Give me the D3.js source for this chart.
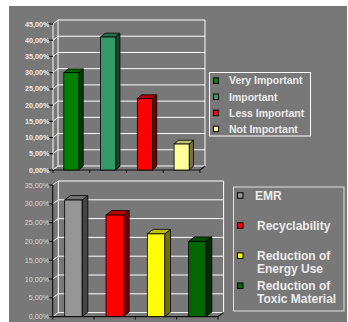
<!DOCTYPE html>
<html>
<head>
<meta charset="utf-8">
<script src="https://cdn.jsdelivr.net/npm/d3@7"></script>
<style>
  html, body { margin: 0; padding: 0; background: #ffffff; }
  svg { display: block; }
  text { font-family: "Liberation Sans", Arial, sans-serif; }
</style>
</head>
<body>
<svg id="chart" width="348" height="322"></svg>
<script>
// ---- Data ----
const importanceCategories = ["Very Important", "Important", "Less Important", "Not Important"];
const importanceValues = [0.30, 0.41, 0.22, 0.08];
const importanceColors = ["#008000", "#339966", "#ff0000", "#ffff99"];
const importanceTicks = [0, 0.05, 0.10, 0.15, 0.20, 0.25, 0.30, 0.35, 0.40, 0.45];

const criteriaCategories = ["EMR", "Recyclability", "Reduction of Energy Use", "Reduction of Toxic Material"];
const criteriaLegendLines = [["EMR"], ["Recyclability"], ["Reduction of", "Energy Use"], ["Reduction of", "Toxic Material"]];
const criteriaValues = [0.31, 0.27, 0.22, 0.20];
const criteriaColors = ["#969696", "#ff0000", "#ffff00", "#006600"];
const criteriaTicks = [0, 0.05, 0.10, 0.15, 0.20, 0.25, 0.30, 0.35];

// Comma decimal percentages, e.g. "45,00%"
const locale = d3.formatLocale({ decimal: ",", thousands: ".", grouping: [3], currency: ["", " €"] });
const pct = locale.format(".2%");

const svg = d3.select("#chart");

// Grey page background
svg.append("rect").attr("x", 9).attr("y", 6).attr("width", 338).attr("height", 316).attr("fill", "#787878");

function shade(c, k) {
  const col = d3.rgb(c);
  return d3.rgb(col.r * k, col.g * k, col.b * k).formatHex();
}

// Draws a 3D column chart: back wall with gridlines, left-wall diagonals, floor and prism bars
function drawChart(cfg) {
  const g = svg.append("g");
  const { x0, x1, yBase, yTop, maxV, wallDx, wallDy, barDx, barDy } = cfg;

  const y = d3.scaleLinear().domain([0, maxV]).range([yBase, yTop]);
  const x = d3.scaleBand().domain(cfg.categories).range([x0, x1])
    .paddingInner(cfg.padInner).paddingOuter(cfg.padInner / 2);

  // back wall gridlines
  g.selectAll("line.grid").data(cfg.ticks).join("line")
    .attr("x1", x0 + wallDx).attr("x2", x1 + wallDx)
    .attr("y1", d => y(d) - wallDy).attr("y2", d => y(d) - wallDy)
    .attr("stroke", "#ffffff").attr("stroke-width", 1);
  // left wall diagonals
  g.selectAll("line.diag").data(cfg.ticks).join("line")
    .attr("x1", x0).attr("x2", x0 + wallDx)
    .attr("y1", d => y(d)).attr("y2", d => y(d) - wallDy)
    .attr("stroke", "#ffffff").attr("stroke-width", 1);
  // back wall edges
  g.append("line").attr("x1", x0 + wallDx).attr("x2", x0 + wallDx)
    .attr("y1", y(maxV) - wallDy).attr("y2", yBase - wallDy).attr("stroke", "#ffffff");
  g.append("line").attr("x1", x1 + wallDx).attr("x2", x1 + wallDx)
    .attr("y1", y(maxV) - wallDy).attr("y2", yBase - wallDy).attr("stroke", "#ffffff");

  // floor front edge and right diagonal
  g.append("line").attr("x1", x0).attr("x2", x1).attr("y1", yBase).attr("y2", yBase)
    .attr("stroke", "#111111").attr("stroke-width", 1.2);
  g.append("line").attr("x1", x1).attr("x2", x1 + wallDx).attr("y1", yBase).attr("y2", yBase - wallDy)
    .attr("stroke", "#111111").attr("stroke-width", 1.2);

  // category boundary ticks below floor
  const bounds = cfg.categories.map(c => x(c) - x.step() * x.paddingInner() / 2).concat([x1]);
  g.selectAll("line.xtick").data(bounds).join("line")
    .attr("x1", d => d).attr("x2", d => d).attr("y1", yBase).attr("y2", yBase + 3)
    .attr("stroke", "#111111");

  // value axis
  g.append("line").attr("x1", x0).attr("x2", x0).attr("y1", y(maxV)).attr("y2", yBase)
    .attr("stroke", cfg.axisColor).attr("stroke-width", 1.2);
  g.selectAll("line.ytick").data(cfg.ticks).join("line")
    .attr("x1", x0 - 4).attr("x2", x0).attr("y1", d => y(d)).attr("y2", d => y(d))
    .attr("stroke", "#111111").attr("stroke-width", 1.2);
  g.selectAll("text.ylab").data(cfg.ticks).join("text")
    .attr("x", x0 - 3.5).attr("y", d => y(d)).attr("dy", "0.35em")
    .attr("text-anchor", "end").attr("font-size", 7.2)
    .attr("font-weight", cfg.labelWeight).attr("fill", cfg.labelColor)
    .text(d => pct(d));

  // bars
  const bw = x.bandwidth();
  const bars = g.selectAll("g.bar").data(cfg.values).join("g");
  bars.append("polygon") // side
    .attr("points", (d, i) => {
      const bx = x(cfg.categories[i]) + bw, ty = y(d);
      return [[bx, ty], [bx + barDx, ty - barDy], [bx + barDx, yBase - barDy], [bx, yBase]].join(" ");
    })
    .attr("fill", (d, i) => shade(cfg.colors[i], 0.45)).attr("stroke", "#000").attr("stroke-width", 0.8);
  bars.append("polygon") // top
    .attr("points", (d, i) => {
      const bx = x(cfg.categories[i]), ty = y(d);
      return [[bx, ty], [bx + barDx, ty - barDy], [bx + bw + barDx, ty - barDy], [bx + bw, ty]].join(" ");
    })
    .attr("fill", (d, i) => shade(cfg.colors[i], 0.75)).attr("stroke", "#000").attr("stroke-width", 0.8);
  bars.append("rect") // front
    .attr("x", (d, i) => x(cfg.categories[i])).attr("y", d => y(d))
    .attr("width", bw).attr("height", d => yBase - y(d))
    .attr("fill", (d, i) => cfg.colors[i]).attr("stroke", "#000").attr("stroke-width", 0.8);
}

drawChart({
  categories: importanceCategories, values: importanceValues, colors: importanceColors, ticks: importanceTicks,
  x0: 53, x1: 200, yBase: 170, yTop: 24, maxV: 0.45,
  wallDx: 5, wallDy: 4, barDx: 4.3, barDy: 3.8, padInner: 0.59,
  axisColor: "#e8e8e8", labelColor: "#eeeeee", labelWeight: "bold"
});

drawChart({
  categories: criteriaCategories, values: criteriaValues, colors: criteriaColors, ticks: criteriaTicks,
  x0: 52.7, x1: 218, yBase: 316.6, yTop: 185, maxV: 0.35,
  wallDx: 5.6, wallDy: 4, barDx: 5.8, barDy: 4.5, padInner: 0.58,
  axisColor: "#111111", labelColor: "#d8d8d8", labelWeight: "normal"
});

// ---- Legends ----
const leg1 = svg.append("g");
leg1.append("rect").attr("x", 209.5).attr("y", 72.5).attr("width", 101).attr("height", 63.5)
  .attr("fill", "none").attr("stroke", "#ffffff").attr("stroke-width", 1);
const leg1Y = d3.scalePoint().domain(importanceCategories).range([80.7, 129]);
const e1 = leg1.selectAll("g").data(importanceCategories).join("g");
e1.append("rect").attr("x", 213.5).attr("y", d => leg1Y(d) - 2.8).attr("width", 5).attr("height", 5.5)
  .attr("fill", (d, i) => importanceColors[i]).attr("stroke", "#000").attr("stroke-width", 1);
e1.append("text").attr("x", 229).attr("y", d => leg1Y(d)).attr("dy", "0.36em")
  .attr("font-size", 10.5).attr("font-weight", "bold").attr("fill", "#ececec")
  .text(d => d);

const leg2 = svg.append("g");
leg2.append("rect").attr("x", 233.5).attr("y", 187).attr("width", 110.5).attr("height", 124)
  .attr("fill", "none").attr("stroke", "#e0e0e0").attr("stroke-width", 1);
const leg2Y = d3.scalePoint().domain(criteriaCategories).range([195.7, 286]);
const e2 = leg2.selectAll("g").data(criteriaCategories).join("g");
e2.append("rect").attr("x", 237.5).attr("y", d => leg2Y(d) - 3).attr("width", 5.5).attr("height", 5.5)
  .attr("fill", (d, i) => criteriaColors[i]).attr("stroke", "#000").attr("stroke-width", 1);
e2.each(function (d, i) {
  const t = d3.select(this).append("text")
    .attr("font-size", 12).attr("font-weight", "bold").attr("fill", "#ececec");
  criteriaLegendLines[i].forEach((line, j) => {
    t.append("tspan").attr("x", i === 0 ? 255 : 257).attr("y", leg2Y(d) + j * 13).attr("dy", "0.36em").text(line);
  });
});
</script>
</body>
</html>
